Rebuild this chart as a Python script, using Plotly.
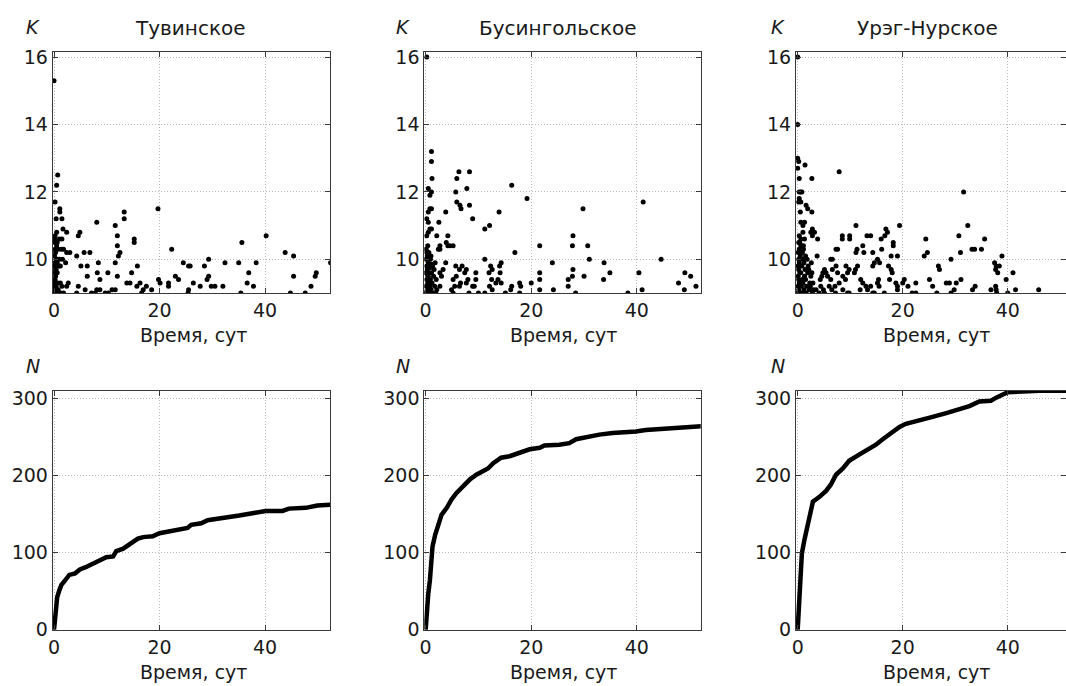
import plotly.graph_objects as go

W, H = 1066, 686

# ---------------- data ----------------
titles = ["Тувинское", "Бусингольское", "Урэг-Нурское"]
x_title = "Время, сут"
k_ticks = [10, 12, 14, 16]
n_ticks = [0, 100, 200, 300]
t_ticks = [0, 20, 40]

# Тувинское: time (days) and K class of events
t1 = [0.0, 0.7, 0.5, 0.2, 1.1, 1.1, 0.4, 1.5, 0.2, 0.5, 1.0, 1.5, 1.7, 2.4, 0.2, 0.6, 1.4, 1.8, 2.4, 3.0,
      4.6, 4.9, 4.3, 5.7, 6.8, 5.1, 6.3, 6.3, 8.1, 8.4, 8.2, 8.7, 10.2, 11.6, 12.0, 12.0, 12.2, 12.5, 13.3, 13.3,
      11.6, 12.0, 15.2, 15.2, 15.8, 14.7, 13.8, 14.4, 15.7, 16.3, 11.6, 11.0, 10.3, 8.7, 8.1, 7.1, 7.8, 9.7, 5.9, 4.3,
      4.6, 2.4, 2.7, 1.8, 19.7, 19.8, 20.1, 17.5, 16.9, 16.6, 18.5, 22.3, 21.7, 21.7, 23.0, 23.6, 24.5, 25.5, 25.8, 26.4,
      25.5, 25.4, 27.7, 28.5, 29.3, 29.3, 29.0, 29.8, 30.5, 32.0, 32.4, 35.0, 35.6, 35.4, 36.9, 36.6, 37.8, 38.3, 40.2, 43.8,
      45.4, 44.8, 45.4, 47.6, 48.7, 49.5, 49.7, 52.4,
      0.1, 0.1, 0.2, 0.1, 0.2, 0.3, 0.2, 0.3, 0.1, 0.2, 0.4, 0.1, 0.3, 0.2, 0.5, 0.1, 0.6, 0.7, 0.8, 0.5,
      0.9, 0.4, 1.0, 1.2, 1.5, 1.3, 0.6, 0.7, 0.8, 0.4, 1.6, 2.2, 1.2]
k1 = [15.3, 12.5, 12.2, 11.7, 11.5, 11.4, 11.2, 11.2, 10.7, 10.8, 10.6, 10.6, 10.9, 10.8, 10.5, 10.5, 10.3, 10.3, 10.2, 10.2,
      10.7, 10.8, 10.1, 10.2, 10.2, 9.8, 9.8, 9.5, 11.1, 9.9, 9.6, 9.4, 9.6, 11.0, 10.7, 10.4, 10.1, 10.2, 11.4, 11.2,
      9.9, 9.5, 10.6, 10.5, 9.8, 9.6, 9.3, 9.3, 9.2, 9.3, 9.1, 9.1, 9.0, 9.1, 9.1, 9.0, 9.0, 9.0, 9.1, 9.0,
      9.2, 9.2, 9.3, 9.0, 11.5, 9.4, 9.3, 9.2, 9.1, 9.0, 9.1, 10.3, 9.3, 9.2, 9.5, 9.4, 9.9, 9.8, 9.8, 9.3,
      9.1, 9.0, 9.2, 9.8, 10.0, 9.5, 9.4, 9.2, 9.2, 9.2, 9.9, 9.9, 10.5, 9.0, 9.6, 9.3, 9.2, 9.9, 10.7, 10.2,
      10.1, 9.0, 9.5, 9.0, 9.2, 9.5, 9.6, 9.9,
      9.0, 9.1, 9.2, 9.3, 9.4, 9.5, 9.6, 9.7, 9.8, 9.9, 10.0, 10.1, 10.2, 10.3, 10.4, 10.6, 9.6, 9.3, 9.1, 9.0,
      9.8, 9.7, 10.0, 9.3, 9.2, 9.0, 9.9, 10.0, 10.3, 9.2, 10.0, 9.9, 9.8]

# Бусингольское
t2 = [0.2, 1.1, 1.1, 1.2, 0.5, 0.8, 1.1, 0.8, 1.1, 0.5, 0.2, 0.5, 0.8, 1.1, 0.5, 0.2, 2.5, 2.1, 3.8, 4.2,
      3.9, 4.2, 4.6, 5.2, 2.7, 2.4, 2.7, 5.9, 6.3, 5.7, 5.9, 6.5, 6.7, 8.3, 7.8, 8.3, 8.9, 11.2, 12.1, 13.9,
      11.2, 16.3, 16.9, 19.2, 21.6, 24.0, 27.8, 27.9, 29.8, 30.7, 31.0, 30.0, 27.9, 27.8, 27.0, 27.0, 28.4, 33.8, 34.9, 33.7,
      38.3, 40.4, 41.2, 41.0, 44.6, 47.9, 49.1, 49.0, 50.2, 51.2, 21.6, 21.6, 21.6, 20.0, 24.2, 17.8, 18.0, 17.8, 16.3, 16.1,
      15.1, 14.0, 14.3, 14.1, 13.3, 14.3, 13.7, 12.6, 12.3, 12.0, 12.5, 12.1, 12.6, 11.2, 10.0, 9.5, 9.5, 9.2, 8.9, 8.2,
      7.7, 7.4, 6.9, 6.4, 7.7, 8.0, 6.6, 6.4, 5.7, 5.8, 5.2, 5.5, 4.9, 5.2, 3.8, 3.3, 2.7, 3.0, 2.7, 2.1,
      0.1, 0.3, 0.1, 0.4, 0.2, 0.5, 0.1, 0.3, 0.2, 0.5, 0.1, 0.3, 0.2, 0.1, 0.4, 0.7, 0.8, 0.9, 0.6, 0.7,
      0.9, 0.6, 1.0, 1.2, 1.1, 1.3, 1.0, 1.4, 1.5, 1.7, 1.9, 1.6, 2.0, 1.8, 0.2, 0.4, 0.6, 0.3, 0.8, 1.1]
k2 = [16.0, 13.2, 12.9, 12.4, 12.1, 11.9, 12.0, 11.5, 11.5, 11.4, 11.2, 11.1, 10.9, 10.9, 10.8, 10.7, 11.1, 10.7, 11.4, 10.7,
      10.5, 10.4, 10.4, 10.4, 10.4, 10.3, 10.3, 12.4, 12.6, 12.0, 11.7, 11.6, 11.5, 12.6, 12.1, 11.6, 11.2, 10.9, 11.0, 11.4,
      10.0, 12.2, 10.2, 11.8, 10.4, 9.9, 10.4, 10.7, 11.5, 10.4, 10.0, 9.5, 9.7, 9.5, 9.4, 9.2, 9.0, 9.9, 9.6, 9.4,
      9.0, 9.6, 11.7, 9.1, 10.0, 9.3, 9.6, 9.1, 9.5, 9.2, 9.6, 9.4, 9.1, 9.3, 9.1, 9.3, 9.2, 9.0, 9.2, 9.1,
      9.0, 9.8, 9.9, 9.6, 9.3, 9.3, 9.4, 9.7, 9.8, 9.6, 9.4, 9.2, 9.1, 9.0, 9.0, 9.6, 9.4, 9.2, 9.2, 9.0,
      9.7, 9.6, 9.8, 9.7, 9.3, 9.4, 9.3, 9.2, 9.8, 9.5, 9.4, 9.2, 9.1, 9.0, 9.9, 9.7, 9.6, 9.5, 9.2, 9.1,
      9.0, 9.1, 9.2, 9.3, 9.4, 9.5, 9.6, 9.7, 9.8, 9.9, 10.0, 10.1, 10.2, 10.3, 10.4, 9.0, 9.2, 9.4, 9.6, 9.8,
      10.0, 10.2, 9.1, 9.3, 9.6, 9.8, 10.1, 9.0, 9.5, 9.2, 9.0, 9.7, 9.4, 9.9, 9.05, 9.15, 9.35, 9.55, 9.75, 9.85]

# Урэг-Нурское
t3 = [0.0, 0.0, 0.0, 0.2, 0.0, 0.3, 0.3, 0.6, 0.8, 0.3, 0.6, 0.2, 0.5, 1.4, 2.7, 1.6, 1.9, 2.7, 0.6, 1.0,
      1.3, 0.3, 1.0, 1.3, 0.6, 2.8, 3.2, 2.5, 2.8, 3.8, 7.9, 3.7, 6.3, 6.6, 7.3, 7.6, 8.5, 8.5, 9.9, 9.9,
      11.1, 11.3, 11.1, 12.4, 13.2, 13.9, 12.6, 14.3, 15.9, 16.8, 17.1, 16.6, 18.2, 18.2, 19.4, 19.0, 17.8, 16.0, 15.2, 15.6,
      14.3, 14.6, 17.3, 17.8, 18.0, 24.4, 24.7, 24.1, 26.8, 27.0, 29.2, 30.7, 31.0, 31.6, 32.4, 33.2, 33.7, 35.0, 35.6, 37.5,
      37.8, 38.4, 37.7, 38.1, 38.9, 39.7, 41.0, 41.5, 40.0, 45.9, 37.7, 37.8, 37.9, 36.8, 33.3, 33.8, 31.1, 30.2, 29.8, 28.3,
      28.9, 29.2, 26.5, 25.7, 25.1, 22.5, 21.8, 22.5, 21.0, 20.3, 20.0, 18.7, 19.0, 19.0, 17.5, 16.5, 15.4, 15.5, 15.2, 14.3,
      14.6, 13.0, 13.3, 13.9, 12.0, 12.4, 11.9, 10.8, 11.0, 11.4, 9.8, 9.5, 9.2, 9.1, 8.6, 9.5, 9.8, 8.6, 7.9, 7.6,
      6.6, 7.3, 6.3, 6.0, 6.5, 7.1, 7.2, 5.4, 5.7, 4.8, 5.1, 4.3, 4.6, 4.4, 4.1, 5.1, 4.9, 3.5,
      0.1, 0.2, 0.1, 0.3, 0.2, 0.1, 0.4, 0.2, 0.1, 0.3, 0.2, 0.5, 0.1, 0.3, 0.6, 0.8, 0.7, 0.9, 0.6, 0.8,
      1.0, 0.9, 1.1, 1.2, 1.0, 1.3, 1.4, 1.2, 1.5, 1.6, 1.7, 1.5, 1.9, 2.0, 1.8, 2.2, 2.3, 2.5, 2.1, 2.6,
      2.8, 2.4, 3.0, 2.9, 2.7, 0.4, 0.5, 0.7, 1.1, 0.2]
k3 = [16.0, 14.0, 13.0, 12.9, 12.7, 12.4, 12.0, 12.0, 12.0, 11.8, 11.7, 11.7, 11.4, 12.8, 12.4, 11.6, 11.5, 11.4, 11.1, 11.0,
      11.1, 10.7, 10.8, 10.6, 10.6, 10.9, 10.8, 10.8, 10.7, 10.6, 12.6, 10.1, 10.0, 10.0, 10.3, 10.3, 10.7, 10.6, 10.7, 10.6,
      11.0, 10.3, 10.2, 10.4, 10.7, 10.7, 10.2, 10.2, 10.6, 10.9, 10.8, 10.7, 10.5, 10.4, 11.0, 10.1, 10.1, 10.3, 10.0, 9.9,
      9.8, 9.9, 9.8, 9.7, 9.6, 10.6, 10.2, 10.1, 9.8, 9.7, 10.0, 10.7, 10.2, 12.0, 11.0, 10.3, 10.3, 10.3, 10.6, 9.9,
      9.8, 9.8, 9.7, 9.6, 10.1, 9.4, 9.6, 9.1, 9.0, 9.1, 9.2, 9.1, 9.0, 9.1, 9.1, 9.2, 9.4, 9.3, 9.1, 9.3,
      9.3, 9.0, 9.0, 9.2, 9.4, 9.3, 9.0, 9.0, 9.2, 9.4, 9.3, 9.3, 9.2, 9.1, 9.4, 9.0, 9.4, 9.2, 9.3, 9.0,
      9.0, 9.2, 9.1, 9.2, 9.4, 9.3, 9.1, 9.6, 9.7, 9.8, 9.7, 9.6, 9.8, 9.4, 9.5, 9.0, 9.0, 9.1, 9.3, 9.6,
      9.7, 9.8, 9.4, 9.2, 9.1, 9.2, 9.0, 9.6, 9.5, 9.6, 9.7, 9.4, 9.5, 9.2, 9.0, 9.0, 9.1, 9.1,
      9.0, 9.1, 9.2, 9.3, 9.4, 9.5, 9.6, 9.7, 9.8, 9.9, 10.0, 10.1, 10.2, 10.3, 10.4, 9.0, 9.2, 9.4, 9.6, 9.8,
      10.0, 10.2, 10.4, 9.1, 9.3, 9.5, 9.7, 9.9, 10.1, 9.0, 9.2, 9.4, 9.6, 9.8, 10.0, 9.1, 9.3, 9.5, 9.7, 9.9,
      9.0, 9.2, 9.1, 9.3, 9.6, 10.5, 10.2, 10.4, 10.3, 10.5]

# cumulative number of events N(t)
tn1 = [0.0, 0.2, 0.4, 0.6, 1.0, 1.4, 2.1, 2.9, 4.0, 4.9, 6.0, 7.4, 8.7, 9.9, 11.2, 11.8, 13.1, 14.7, 15.9, 16.9,
       18.7, 20.0, 21.9, 23.8, 25.3, 26.0, 27.9, 29.1, 31.3, 33.8, 35.1, 37.6, 40.1, 43.3, 44.5, 47.7, 49.9, 52.4]
n1 = [0, 21, 34, 42, 51, 58, 64, 71, 73, 78, 81, 86, 90, 94, 95, 102, 105, 112, 118, 120,
      121, 125, 127, 130, 132, 136, 138, 142, 144, 146, 148, 151, 154, 154, 157, 158, 161, 162]

tn2 = [0.0, 0.2, 0.5, 0.8, 1.0, 1.3, 1.8, 2.4, 3.0, 4.0, 4.9, 5.8, 7.1, 8.4, 9.6, 10.9, 11.8, 12.8, 14.3, 15.9,
       17.8, 19.7, 21.6, 22.5, 25.3, 27.2, 28.5, 31.0, 32.9, 35.4, 37.9, 39.8, 41.7, 44.2, 48.0, 49.9, 52.4]
n2 = [0, 30, 47, 64, 82, 108, 123, 136, 149, 158, 169, 177, 187, 195, 201, 206, 209, 216, 223, 225,
      230, 234, 236, 239, 240, 242, 247, 251, 253, 255, 256, 257, 259, 260, 261, 263, 264]

tn3 = [0.0, 0.3, 0.6, 0.8, 1.3, 1.9, 2.3, 2.9, 4.1, 5.4, 6.3, 7.3, 8.6, 9.8, 11.7, 13.7, 14.9, 16.2, 17.8, 19.4,
       20.6, 23.2, 25.7, 28.3, 30.8, 32.7, 34.6, 36.8, 37.8, 38.7, 40.0, 42.9, 46.0, 52.0]
n3 = [0, 39, 78, 99, 117, 134, 147, 166, 172, 180, 188, 201, 209, 219, 227, 235, 240, 247, 255, 263,
      267, 271, 276, 281, 286, 290, 296, 297, 301, 304, 308, 309, 310, 310]

scatter_sets = [(t1, k1), (t2, k2), (t3, k3)]
curve_sets = [(tn1, n1), (tn2, n2), (tn3, n3)]

# ---------------- layout geometry (pixels) ----------------
col_px = [(52.7, 330.0), (424.3, 700.7), (796.0, 1066.0)]
row_px = [(52.0, 293.0), (390.7, 630.0)]
x_ranges = [[-0.25, 52.3], [-0.26, 52.1], [-0.32, 51.1]]
k_range = [9.0, 16.15]
n_range = [-0.5, 310]

def fx(p):
    return p / W

def fy(p):
    return 1 - p / H

FONT = "DejaVu Sans"
TXT = "#1a1a1a"

fig = go.Figure()

axis_common = dict(
    showline=True, linecolor="#3a3a3a", linewidth=1, mirror="ticks",
    ticks="inside", ticklen=5, tickcolor="#3a3a3a", tickwidth=1,
    showgrid=True, gridcolor="#b8b8b8", griddash="1px,2px", gridwidth=1,
    zeroline=False, automargin=False,
    tickfont=dict(family=FONT, size=19, color=TXT),
)

layout = {}
idx = 0
for r in range(2):
    for c in range(3):
        idx += 1
        xa = "xaxis" if idx == 1 else f"xaxis{idx}"
        ya = "yaxis" if idx == 1 else f"yaxis{idx}"
        xref = "x" if idx == 1 else f"x{idx}"
        yref = "y" if idx == 1 else f"y{idx}"
        layout[xa] = dict(axis_common, domain=[fx(col_px[c][0]), fx(col_px[c][1])],
                          range=x_ranges[c], tickvals=t_ticks, anchor=yref)
        yvals = k_ticks if r == 0 else n_ticks
        yr = k_range if r == 0 else n_range
        layout[ya] = dict(axis_common, domain=[fy(row_px[r][1]), fy(row_px[r][0])],
                          range=yr, tickvals=yvals, anchor=xref)
        if r == 0:
            tx, ky = scatter_sets[c]
            fig.add_trace(go.Scatter(x=tx, y=ky, mode="markers", xaxis=xref, yaxis=yref,
                                     marker=dict(size=5, color="black"), showlegend=False,
                                     cliponaxis=True))
        else:
            tx, ny = curve_sets[c]
            fig.add_trace(go.Scatter(x=tx, y=ny, mode="lines", xaxis=xref, yaxis=yref,
                                     line=dict(width=4.5, color="black"), showlegend=False))

annotations = []
title_cx = [190, 558, 927]
label_cx = [33, 403, 778]
xt_cx = [193, 563, 936]
for c in range(3):
    annotations.append(dict(text=titles[c], x=fx(title_cx[c]), y=fy(28), xref="paper", yref="paper",
                            xanchor="center", yanchor="middle", showarrow=False,
                            font=dict(family=FONT, size=20, color=TXT)))
    annotations.append(dict(text="<i>K</i>", x=fx(label_cx[c]), y=fy(27), xref="paper", yref="paper",
                            xanchor="center", yanchor="middle", showarrow=False,
                            font=dict(family=FONT, size=19, color=TXT)))
    annotations.append(dict(text="<i>N</i>", x=fx(label_cx[c]), y=fy(366), xref="paper", yref="paper",
                            xanchor="center", yanchor="middle", showarrow=False,
                            font=dict(family=FONT, size=19, color=TXT)))
    for ycen in (335, 672):
        annotations.append(dict(text=x_title, x=fx(xt_cx[c]), y=fy(ycen), xref="paper", yref="paper",
                                xanchor="center", yanchor="middle", showarrow=False,
                                font=dict(family=FONT, size=19, color=TXT)))

fig.update_layout(
    width=W, height=H,
    margin=dict(l=0, r=0, t=0, b=0, pad=0),
    paper_bgcolor="white", plot_bgcolor="white",
    showlegend=False,
    annotations=annotations,
    **layout,
)

fig.write_html(
    "out.html",
    config={"displayModeBar": False},
    post_script="document.body.style.margin='0';document.body.style.padding='0';document.body.style.overflow='hidden';",
)
